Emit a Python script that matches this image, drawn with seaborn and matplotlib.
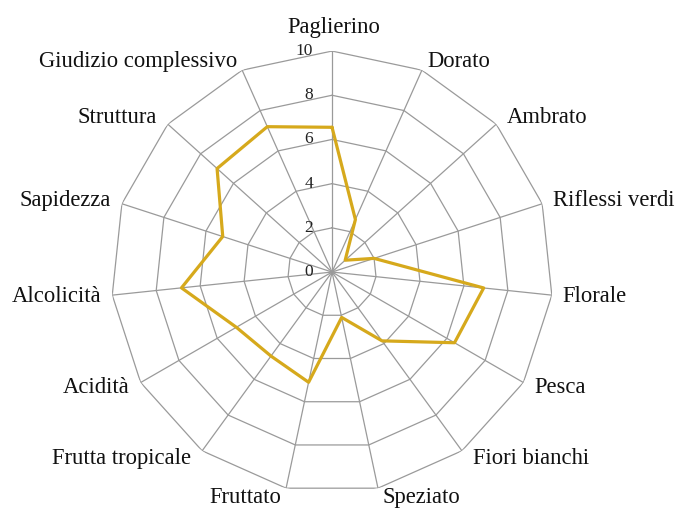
import numpy as np
import pandas as pd
import matplotlib
matplotlib.use("Agg")
import matplotlib.pyplot as plt
import seaborn as sns

categories = ["Paglierino", "Dorato", "Ambrato", "Riflessi verdi", "Florale", "Pesca",
              "Fiori bianchi", "Speziato", "Fruttato", "Frutta tropicale", "Acidità",
              "Alcolicità", "Sapidezza", "Struttura", "Giudizio complessivo"]
values = [6.55, 2.6, 0.8, 2.0, 6.9, 6.4, 3.85, 2.1, 5.1, 4.7, 5.0, 6.85, 5.2, 7.0, 7.2]
ticks = [0, 2, 4, 6, 8, 10]

sns.set_style("white")
plt.rcParams["font.family"] = ["Liberation Serif", "DejaVu Serif"]

GRID = "#9a9a9a"
GOLD = "#D6A91C"

n = len(categories)
angles = np.linspace(0, 2 * np.pi, n, endpoint=False)
closed_angles = np.append(angles, 2 * np.pi)

fig = plt.figure(figsize=(6.79, 5.08), dpi=100)
ax = fig.add_axes([0.1635, 0.0295, 0.651, 0.870], polar=True)
ax.set_theta_zero_location("N")
ax.set_theta_direction(-1)
ax.grid(False)
ax.spines["polar"].set_visible(False)
ax.patch.set_alpha(0)

# polygonal rings
for t in ticks[1:]:
    ax.plot(closed_angles, [t] * (n + 1), color=GRID, lw=0.9, zorder=1)
# spokes
for a in angles:
    ax.plot([a, a], [0, ticks[-1]], color=GRID, lw=0.9, zorder=1)

df = pd.DataFrame({"theta": closed_angles, "value": values + [values[0]]})
sns.lineplot(data=df, x="theta", y="value", ax=ax, sort=False, estimator=None,
             color=GOLD, lw=2.3, zorder=3)

ax.set_ylim(0, ticks[-1])
ax.set_xticks([])
ax.set_yticks([])
ax.set_xlabel("")
ax.set_ylabel("")

# radial tick labels
for t in ticks:
    ax.annotate(str(t), xy=(0, t), xytext=(-19, 0), textcoords="offset pixels",
                ha="right", va="center", fontsize=12.5, color="#222222")

# category labels
for a, cat in zip(angles, categories):
    s, c = np.sin(a), np.cos(a)
    if abs(s) < 0.05:
        ha, dx, dy = "center", 2, 24
    else:
        ha = "left" if s > 0 else "right"
        dx = (11 if abs(s) > 0.5 else 5) * (1 if s > 0 else -1)
        dy = 10 * c
    ax.annotate(cat, xy=(a, ticks[-1]), xytext=(dx, dy), textcoords="offset pixels",
                ha=ha, va="center", fontsize=16.3, color="#111111")

fig.savefig("out.png", dpi=100)
